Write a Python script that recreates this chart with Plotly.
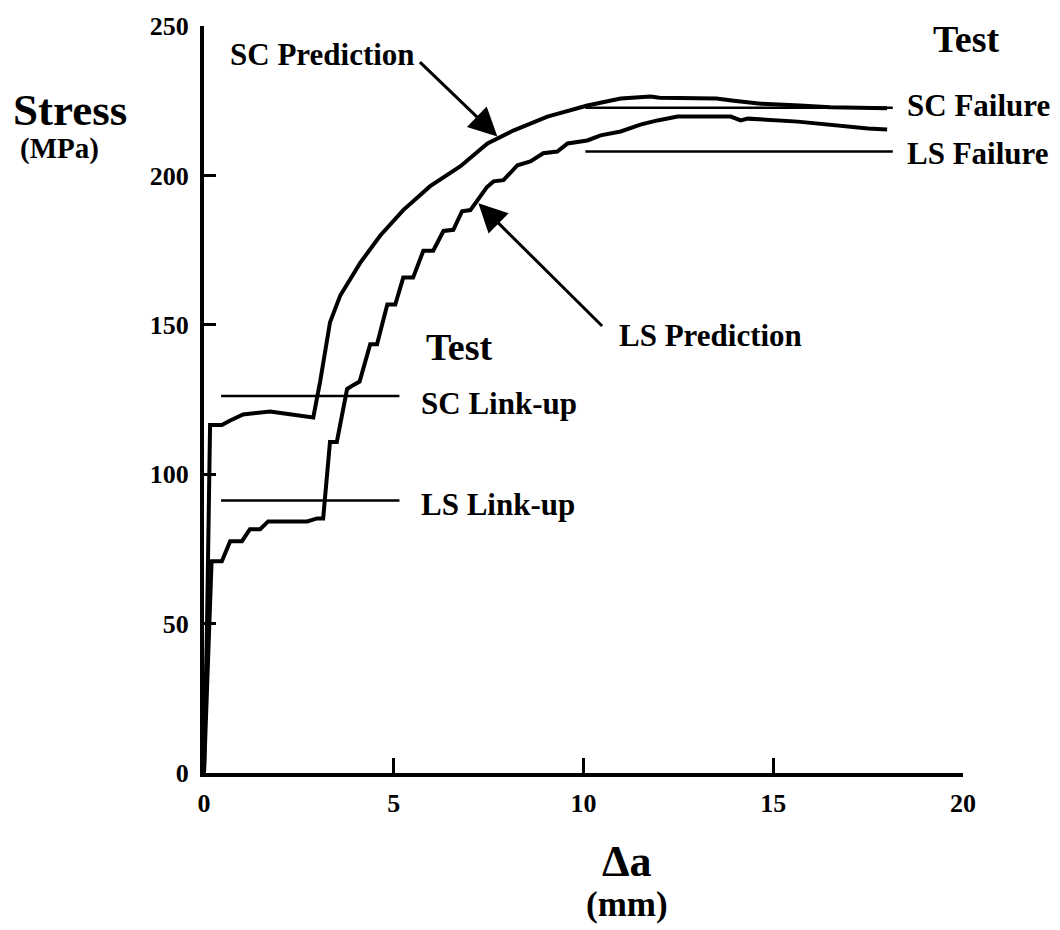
import plotly.graph_objects as go

# Crack extension (mm) vs. applied stress (MPa)
sc_x = [0, 0.08, 0.16, 0.47, 0.69, 1.03, 1.74, 2.27, 2.72, 2.88, 3.06, 3.32, 3.59,
        4.12, 4.64, 5.25, 5.96, 6.75, 7.47, 8.15, 9.05, 10.1, 10.98, 11.77, 12.0,
        13.5, 13.96, 14.67, 15.7, 16.5, 18.0]
sc_y = [0, 50, 116.5, 116.5, 118, 120, 121, 120, 119, 119, 131, 150.8, 159.8,
        170.8, 179.8, 188.4, 196.4, 203, 210.7, 215, 219.7, 223.4, 225.7, 226.4, 226,
        225.7, 225, 224, 223.4, 222.8, 222.5]

ls_x = [0, 0.1, 0.2, 0.47, 0.69, 1.0, 1.21, 1.48, 1.69, 2.72, 2.98, 3.14, 3.32, 3.5,
        3.67, 3.77, 3.93, 4.1, 4.38, 4.56, 4.83, 5.04, 5.25, 5.51, 5.78, 6.04, 6.31,
        6.57, 6.8, 7.02, 7.28, 7.45, 7.63, 7.89, 8.26, 8.6, 8.94, 9.31, 9.58, 10.1,
        10.45, 10.98, 11.5, 11.95, 12.48, 13.88, 14.14, 14.33, 15.65, 16.6, 17.5, 18.0]
ls_y = [0, 40, 70.9, 70.9, 77.6, 77.6, 81.6, 81.6, 84.2, 84.2, 85.2, 85.2, 110.8, 110.8,
        121.8, 128.5, 129.8, 131, 143.5, 143.5, 156.8, 156.8, 165.8, 165.8, 174.8, 174.8, 181.4,
        181.8, 188, 188.4, 193, 196, 198, 198.4, 203.4, 204.7, 207.4, 208, 210.7, 211.7,
        213.4, 214.7, 217, 218.4, 219.7, 219.7, 218.4, 219, 218, 216.7, 215.7, 215.4]

# Test levels (MPa) and the span of each reference line (mm)
linkup_x = [0.45, 5.15]
sc_linkup = 126.2
ls_linkup = 91.2
failure_x = [10.05, 18.15]
sc_failure = 222.6
ls_failure = 208.0

x_ticks = [0, 5, 10, 15, 20]
y_ticks = [0, 50, 100, 150, 200, 250]

FONT = "Liberation Serif"
BLACK = "#000000"

fig = go.Figure()
for ys in (sc_linkup, ls_linkup):
    fig.add_trace(go.Scatter(x=linkup_x, y=[ys, ys], mode="lines",
                             line=dict(color=BLACK, width=2.5), showlegend=False))
for ys in (sc_failure, ls_failure):
    fig.add_trace(go.Scatter(x=failure_x, y=[ys, ys], mode="lines",
                             line=dict(color=BLACK, width=2.5), showlegend=False))
fig.add_trace(go.Scatter(x=sc_x, y=sc_y, mode="lines", name="SC Prediction",
                         line=dict(color=BLACK, width=4), showlegend=False))
fig.add_trace(go.Scatter(x=ls_x, y=ls_y, mode="lines", name="LS Prediction",
                         line=dict(color=BLACK, width=4), showlegend=False))


def label(text, x, y, xanchor="left", size=32, ref="x"):
    fig.add_annotation(x=x, y=y, xref=ref, yref="y" if ref == "x" else "paper",
                       text=text, showarrow=False, xanchor=xanchor, yanchor="middle",
                       font=dict(family=FONT, size=size, color=BLACK, weight="bold"))

label("SC Prediction", 0.63, 240.5, size=31)
label("Test", 1.004, 0.982, xanchor="center", size=38, ref="paper")
label("SC Failure", 0.9236, 0.893, ref="paper", size=31)
label("LS Failure", 0.9236, 0.829, ref="paper", size=31)
label("Test", 6.72, 142.5, xanchor="center", size=38)
label("LS Prediction", 10.88, 146.5, size=31)
label("SC Link-up", 5.67, 123.5, size=31)
label("LS Link-up", 5.67, 90.0, size=31)

# Pointer arrows from the prediction labels to their curves
for tip, tail in (((7.73, 213.0), (5.65, 238.4)), ((7.23, 190.7), (10.53, 149.1))):
    fig.add_annotation(x=tip[0], y=tip[1], ax=tail[0], ay=tail[1],
                       xref="x", yref="y", axref="x", ayref="y", text="",
                       showarrow=True, arrowhead=2, arrowsize=1.9, arrowwidth=3,
                       arrowcolor=BLACK)


# Axis titles
def title(text, x, y, size):
    fig.add_annotation(x=x, y=y, xref="paper", yref="paper", text=text, showarrow=False,
                       xanchor="center", yanchor="middle",
                       font=dict(family=FONT, size=size, color=BLACK, weight="bold"))


title("Stress", -0.1765, 0.888, 45)
title("(MPa)", -0.19, 0.836, 29)
title("Δa", 0.557, -0.118, 44)
title("(mm)", 0.557, -0.176, 35)

axis_common = dict(showline=True, linewidth=4, linecolor=BLACK, showgrid=False,
                   zeroline=False, ticks="inside", tickwidth=3, tickcolor=BLACK,
                   tickfont=dict(family=FONT, size=26, color=BLACK, weight="bold"))
fig.update_xaxes(range=[0, 20], tickvals=x_ticks, ticklen=15, ticklabelstandoff=4,
                 **axis_common)
fig.update_yaxes(range=[0, 250], tickvals=y_ticks, ticklen=12, ticklabelstandoff=6,
                 **axis_common)

fig.update_layout(width=1060, height=930, plot_bgcolor="white", paper_bgcolor="white",
                  margin=dict(l=204, r=97, t=22, b=157), showlegend=False)

fig.write_html("out.html")
